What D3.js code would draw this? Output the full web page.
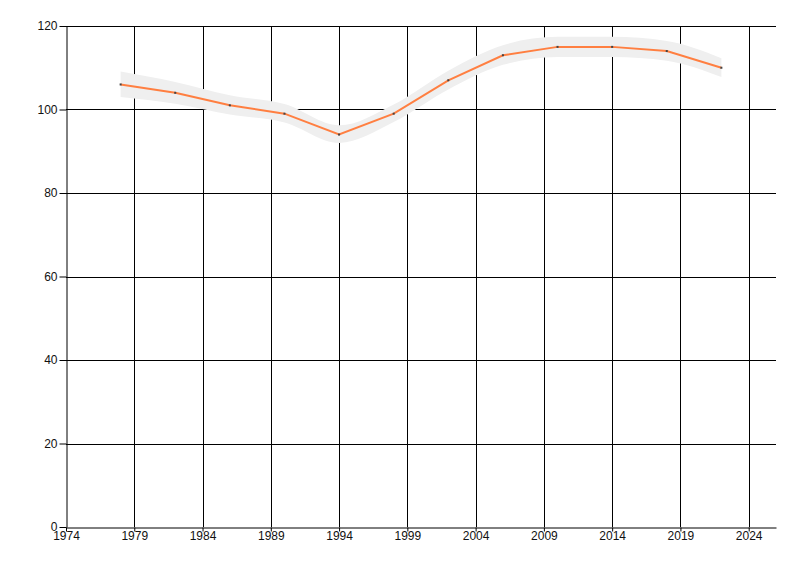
<!DOCTYPE html>
<html>
<head>
<meta charset="utf-8">
<script src="https://cdn.jsdelivr.net/npm/d3@7"></script>
<style>
  body { margin: 0; background: #fff; }
  text { font-family: "Liberation Sans", Arial, sans-serif; font-size: 12px; }
</style>
</head>
<body>
<svg id="chart"></svg>
<script>
var width = 800,
    height = 576;
var margin = {top: 26, right: 24, bottom: 49, left: 66};

// data
var years = [1978, 1982, 1986, 1990, 1994, 1998, 2002, 2006, 2010, 2014, 2018, 2022];
var values = [106, 104, 101, 99, 94, 99, 107, 113, 115, 115, 114, 110];
var bandLow = [103, 101.4, 98.8, 96.9, 92, 97, 104.8, 110.7, 112.6, 112.6, 111.7, 107.8];
var bandHigh = [109.1, 106.6, 103.4, 101.3, 96.2, 101.2, 109.3, 115.4, 117.4, 117.4, 116.4, 112.3];
var xTicks = [1974, 1979, 1984, 1989, 1994, 1999, 2004, 2009, 2014, 2019, 2024];
var yTicks = [0, 20, 40, 60, 80, 100, 120];

var svg = d3.select("#chart")
    .attr("width", width)
    .attr("height", height);

var x = d3.scaleLinear().domain([1974, 2026]).range([margin.left, width - margin.right]);
var y = d3.scaleLinear().domain([0, 120]).range([height - margin.bottom, margin.top]);

var pts = years.map(function(d, i) {
  return {year: d, v: values[i], lo: bandLow[i], hi: bandHigh[i]};
});

// grid
var grid = svg.append("g");
grid.selectAll("line.v")
  .data(xTicks.slice(1))
  .enter().append("line")
    .attr("x1", function(d) { return Math.round(x(d)) + 0.5; })
    .attr("x2", function(d) { return Math.round(x(d)) + 0.5; })
    .attr("y1", y(120))
    .attr("y2", y(0))
    .style("stroke", "#000")
    .style("stroke-width", 1);
grid.selectAll("line.h")
  .data(yTicks.slice(1))
  .enter().append("line")
    .attr("x1", x(1974))
    .attr("x2", x(2026))
    .attr("y1", function(d) { return Math.round(y(d)) + 0.5; })
    .attr("y2", function(d) { return Math.round(y(d)) + 0.5; })
    .style("stroke", "#000")
    .style("stroke-width", 1);

// confidence band
var area = d3.area()
  .x(function(d) { return x(d.year); })
  .y0(function(d) { return y(d.lo); })
  .y1(function(d) { return y(d.hi); })
  .curve(d3.curveMonotoneX);

svg.append("path")
  .datum(pts)
  .attr("d", area)
  .style("fill", "#efefef");

// line
var line = d3.line()
  .x(function(d) { return x(d.year); })
  .y(function(d) { return y(d.v); });

svg.append("path")
  .datum(pts)
  .attr("d", line)
  .style("fill", "none")
  .style("stroke", "#ff7f41")
  .style("stroke-width", 2);

svg.selectAll("rect.pt")
  .data(pts)
  .enter().append("rect")
    .attr("x", function(d) { return x(d.year) - 1; })
    .attr("y", function(d) { return y(d.v) - 1; })
    .attr("width", 2)
    .attr("height", 2)
    .style("fill", "#444");

// axes
var xAxis = svg.append("g")
  .attr("transform", "translate(0," + (Math.round(y(0)) + 0.5) + ")")
  .call(d3.axisBottom(x).tickValues(xTicks).tickFormat(d3.format("d")).tickSize(4).tickSizeOuter(0));
var yAxis = svg.append("g")
  .attr("transform", "translate(" + (Math.round(x(1974)) + 0.5) + ",0)")
  .call(d3.axisLeft(y).tickValues(yTicks).tickSize(7).tickSizeOuter(0));

[xAxis, yAxis].forEach(function(a) {
  a.select(".domain").style("stroke", "#000");
  a.selectAll(".tick line").style("stroke", "#000");
  a.selectAll("text").style("font-family", "Liberation Sans, Arial, sans-serif").style("font-size", "12px").style("fill", "#111");
});
xAxis.selectAll("text").attr("dy", "0.6em").attr("y", 5);
yAxis.selectAll("text").attr("x", -9);
</script>
</body>
</html>
